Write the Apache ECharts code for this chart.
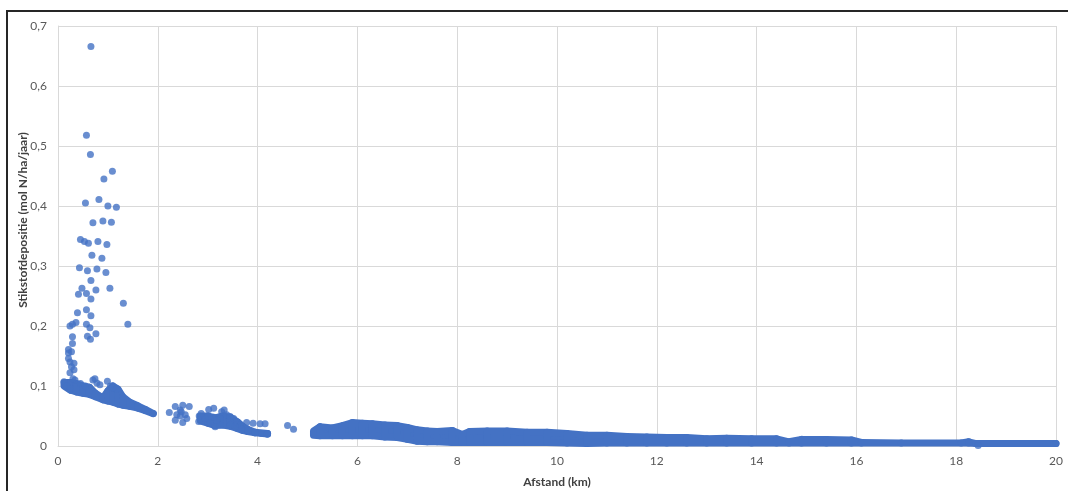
<!DOCTYPE html>
<html>
<head>
<meta charset="utf-8">
<script src="https://cdn.jsdelivr.net/npm/echarts@6/dist/echarts.min.js"></script>
<style>
  html, body { margin: 0; padding: 0; background: #ffffff; }
  #chart { width: 1068px; height: 491px; }
  #frame { position: absolute; left: 6px; top: 10px; width: 1200px; height: 700px;
           border-left: 2px solid #262626; border-top: 2px solid #262626; pointer-events: none; }
</style>
</head>
<body>
<div id="chart"></div>
<div id="frame"></div>
<script>
// ---------- data ----------
var xTickLabels = ['0', '2', '4', '6', '8', '10', '12', '14', '16', '18', '20'];
var yTickLabels = ['0', '0,1', '0,2', '0,3', '0,4', '0,5', '0,6', '0,7'];

// individual points near the source (km, mol N/ha/jaar)
var spikePoints = [
  [0.66,0.666],[0.57,0.518],[0.65,0.486],[1.09,0.458],[0.92,0.445],[0.55,0.405],[0.82,0.411],
  [1.00,0.400],[1.17,0.398],[0.70,0.372],[0.90,0.375],[1.07,0.373],[0.45,0.344],[0.53,0.341],
  [0.61,0.338],[0.80,0.341],[0.98,0.336],[0.68,0.318],[0.88,0.313],[0.43,0.297],[0.59,0.292],
  [0.78,0.295],[0.96,0.289],[0.66,0.276],[0.48,0.263],[0.76,0.260],[1.04,0.263],[0.41,0.253],
  [0.57,0.254],[0.66,0.245],[1.31,0.238],[0.39,0.222],[0.57,0.227],[0.66,0.217],[0.24,0.200],
  [0.29,0.203],[0.36,0.206],[0.57,0.203],[0.64,0.197],[0.59,0.183],[0.65,0.178],[0.76,0.187],
  [1.40,0.203],[0.29,0.182],[0.29,0.171],[0.21,0.161],[0.27,0.157],[0.21,0.155],[0.21,0.146],
  [0.24,0.140],[0.32,0.138],[0.32,0.127],[0.24,0.122],[0.27,0.132]
];
var clusterPoints = [
  [0.12,0.107],[0.34,0.110],[0.30,0.112],[0.70,0.110],[0.74,0.112],[0.78,0.105],[0.84,0.102],
  [0.99,0.108],[1.05,0.100],[1.10,0.097],[1.17,0.095],[0.45,0.104],[0.55,0.100],[0.18,0.100],
  [0.25,0.096],
  [2.23,0.056],[2.35,0.066],[2.50,0.068],[2.63,0.066],[2.45,0.060],[2.38,0.052],[2.55,0.052],
  [2.35,0.043],[2.50,0.039],[2.58,0.046],[2.45,0.050],[2.47,0.057],
  [2.83,0.050],[2.82,0.041],[3.02,0.061],[3.12,0.063],[2.95,0.046],[3.12,0.048],[3.05,0.038],
  [3.15,0.032],[3.25,0.035],[3.28,0.057],[3.33,0.060],[3.38,0.052],[3.45,0.049],[3.52,0.046],
  [3.58,0.040],[3.65,0.035],[3.68,0.028],[3.78,0.039],[3.81,0.026],[3.91,0.038],[3.95,0.022],
  [4.05,0.037],[4.15,0.037],[4.08,0.021],[4.19,0.020],[3.45,0.035],[3.55,0.032],[3.25,0.046],
  [3.18,0.043],[3.02,0.049],[2.87,0.054],
  [4.60,0.034],[4.72,0.028],[18.44,0.001]
];

// dense point clouds: [km, lowest value, highest value]
var nearBand = [
  [0.12,0.100,0.106],[0.25,0.093,0.106],[0.37,0.090,0.104],[0.50,0.088,0.100],[0.63,0.086,0.098],
  [0.75,0.082,0.088],[0.90,0.077,0.080],[1.00,0.075,0.092],[1.10,0.073,0.100],[1.20,0.070,0.095],
  [1.30,0.068,0.082],[1.44,0.066,0.073],[1.60,0.063,0.067],[1.75,0.059,0.061],[1.91,0.054,0.054]
];
var midBand = [
  [2.85,0.042,0.050],[3.00,0.038,0.050],[3.15,0.034,0.047],[3.30,0.035,0.050],[3.45,0.033,0.048],
  [3.60,0.029,0.040],[3.70,0.026,0.033],[3.80,0.024,0.028],[3.95,0.022,0.023],[4.20,0.020,0.021]
];
var farBand = [
  [5.12,0.018,0.025],[5.25,0.017,0.032],[5.50,0.017,0.030],[5.70,0.017,0.034],[5.90,0.017,0.039],
  [6.10,0.017,0.038],[6.30,0.017,0.037],[6.55,0.015,0.035],[6.80,0.014,0.034],[7.00,0.011,0.031],
  [7.20,0.008,0.027],[7.40,0.007,0.025],[7.60,0.007,0.024],[7.90,0.006,0.026],[8.10,0.006,0.019],
  [8.25,0.006,0.024],[8.60,0.006,0.025],[9.00,0.006,0.025],[9.40,0.006,0.023],[9.80,0.006,0.023],
  [10.2,0.005,0.021],[10.6,0.004,0.018],[11.0,0.005,0.018],[11.4,0.005,0.016],[11.8,0.005,0.015],
  [12.2,0.005,0.014],[12.6,0.005,0.014],[13.0,0.005,0.012],[13.4,0.005,0.013],[13.9,0.005,0.012],
  [14.4,0.005,0.012],[14.65,0.005,0.007],[14.9,0.005,0.011],[15.4,0.005,0.011],[15.9,0.005,0.010],
  [16.1,0.005,0.006],[16.9,0.005,0.005],[18.1,0.005,0.005],[18.25,0.005,0.007],[18.4,0.004,0.004],
  [20.0,0.004,0.004]
];

// ---------- chart ----------
var BLUE = '#4472C4';
var DOT = 7;

function bandSeries(arr) {
  return {
    type: 'custom',
    data: arr,
    clip: false,
    renderItem: function (params, api) {
      var i = params.dataIndex;
      var a = arr[i];
      var b = arr[i + 1] || arr[i];
      var pts = [
        api.coord([a[0], a[2]]), api.coord([b[0], b[2]]),
        api.coord([b[0], b[1]]), api.coord([a[0], a[1]])
      ];
      return {
        type: 'polygon',
        shape: { points: pts },
        style: { fill: BLUE, stroke: BLUE, lineWidth: DOT, lineJoin: 'round', lineCap: 'round' }
      };
    },
    encode: { x: 0, y: [1, 2] },
    z: 2
  };
}

var chart = echarts.init(document.getElementById('chart'), null, { renderer: 'canvas' });
var FONT = 'Lato, "Open Sans", "Liberation Sans", sans-serif';
chart.setOption({
  animation: false,
  backgroundColor: '#ffffff',
  grid: { left: 58, right: 12, top: 26, bottom: 45, containLabel: false, outerBoundsMode: 'none' },
  xAxis: {
    type: 'value', min: 0, max: 20, interval: 2,
    name: 'Afstand (km)', nameLocation: 'middle', nameGap: 30,
    nameTextStyle: { fontFamily: FONT, fontSize: 12, fontWeight: 'bold', color: '#404040' },
    axisLine: { show: true, lineStyle: { color: '#d9d9d9', width: 1 } },
    axisTick: { show: false },
    splitLine: { show: true, lineStyle: { color: '#d9d9d9', width: 1 } },
    axisLabel: {
      fontFamily: FONT, fontSize: 12, color: '#595959', margin: 9,
      formatter: function (v) { return xTickLabels[Math.round(v / 2)]; }
    }
  },
  yAxis: {
    type: 'value', min: 0, max: 0.7, interval: 0.1,
    name: 'Stikstofdepositie (mol N/ha/jaar)', nameLocation: 'middle', nameGap: 29,
    nameMoveOverlap: false,
    nameTextStyle: { fontFamily: FONT, fontSize: 12, fontWeight: 'bold', color: '#404040', padding: [0, 0, 0, 32] },
    axisLine: { show: true, lineStyle: { color: '#d9d9d9', width: 1 } },
    axisTick: { show: false },
    splitLine: { show: true, lineStyle: { color: '#d9d9d9', width: 1 } },
    axisLabel: {
      fontFamily: FONT, fontSize: 12, color: '#595959', margin: 11,
      formatter: function (v) { return yTickLabels[Math.round(v * 10)]; }
    }
  },
  series: [
    bandSeries(nearBand),
    bandSeries(midBand),
    bandSeries(farBand),
    { type: 'scatter', data: clusterPoints, symbol: 'circle', symbolSize: DOT,
      itemStyle: { color: BLUE }, z: 3 },
    { type: 'scatter', data: spikePoints, symbol: 'circle', symbolSize: DOT,
      itemStyle: { color: BLUE }, z: 3 }
  ]
});
</script>
</body>
</html>
